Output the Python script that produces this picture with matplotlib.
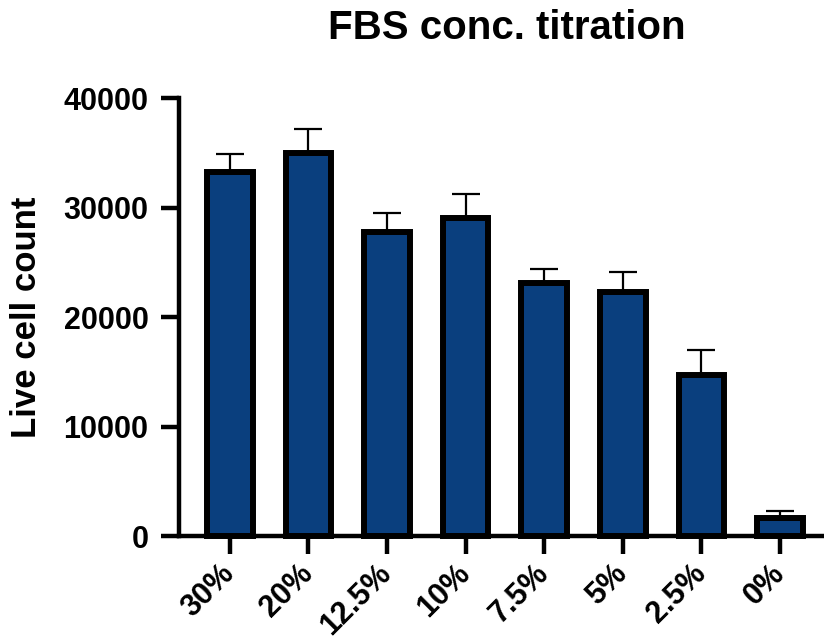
import matplotlib
matplotlib.use("Agg")
import matplotlib.pyplot as plt

# FBS concentration titration: mean live cell count and upper SD per condition
conditions = ["30%", "20%", "12.5%", "10%", "7.5%", "5%", "2.5%", "0%"]
live_counts = [33300, 35000, 27800, 29100, 23100, 22300, 14700, 1650]
sd_upper = [1600, 2200, 1700, 2200, 1300, 1800, 2300, 650]

yticks = [0, 10000, 20000, 30000, 40000]

BAR_COLOR = "#0a3f7e"

plt.rcParams["font.family"] = ["Liberation Sans", "DejaVu Sans"]
plt.rcParams["font.weight"] = "bold"

fig = plt.figure(figsize=(8.24, 6.44), dpi=100)
ax = fig.add_axes([0.2172, 0.1677, 0.7828, 0.6794])

x = list(range(len(conditions)))
ax.errorbar(x, live_counts, yerr=[[0] * len(sd_upper), sd_upper],
            fmt="none", ecolor="black", elinewidth=1.6, capsize=10,
            capthick=1.6, zorder=2)
ax.bar(x, live_counts, width=0.58, color=BAR_COLOR, edgecolor="black",
       linewidth=4.3, zorder=3, clip_on=False)

ax.set_xlim(-0.646, 7.56)
ax.set_ylim(0, 40000)
ax.set_yticks(yticks)
ax.set_yticklabels([str(v) for v in yticks])
ax.set_xticks(x)
ax.set_xticklabels(conditions, rotation=45, ha="right", va="center",
                   rotation_mode="anchor", fontsize=22)

for side in ["top", "right"]:
    ax.spines[side].set_visible(False)
for side in ["left", "bottom"]:
    ax.spines[side].set_linewidth(3.2)

ax.tick_params(axis="both", length=13, width=3.2)
ax.tick_params(axis="y", pad=9, labelsize=22)
ax.tick_params(axis="x", pad=11)
for lbl in ax.get_xticklabels() + ax.get_yticklabels():
    lbl.set_fontweight("bold")

ax.set_ylabel("Live cell count", fontsize=25, fontweight="bold")
ax.yaxis.set_label_coords(-0.211, 0.5)

fig.text(0.615, 0.956, "FBS conc. titration", fontsize=29,
         fontweight="bold", ha="center", va="center")

fig.savefig("out.png", dpi=100)
